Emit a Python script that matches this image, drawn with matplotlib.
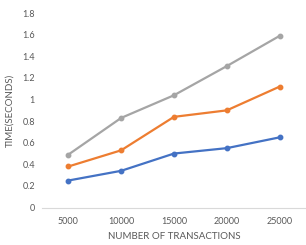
import matplotlib
matplotlib.use("Agg")
import matplotlib.pyplot as plt

# data
transactions = ["5000", "10000", "15000", "20000", "25000"]
series_blue = [0.25, 0.34, 0.50, 0.55, 0.65]
series_orange = [0.38, 0.53, 0.84, 0.90, 1.12]
series_gray = [0.49, 0.83, 1.04, 1.31, 1.59]
y_ticks = [0, 0.2, 0.4, 0.6, 0.8, 1, 1.2, 1.4, 1.6, 1.8]

plt.rcParams['font.family'] = ['Lato', 'DejaVu Sans']

fig = plt.figure(figsize=(3.06, 2.45), dpi=100)
ax = fig.add_axes([0.137, 0.153, 0.863, 0.793])

xs = range(len(transactions))
for vals, col in [(series_blue, '#4472C4'), (series_orange, '#ED7D31'), (series_gray, '#A5A5A5')]:
    ax.plot(xs, vals, color=col, linewidth=1.6, marker='o', markersize=3.2)

ax.set_xlim(-0.5, len(transactions) - 0.5)
ax.set_ylim(0, 1.8)
ax.set_xticks(list(xs))
ax.set_xticklabels(transactions)
ax.set_yticks(y_ticks)
ax.set_yticklabels([f"{v:g}" for v in y_ticks])

for s in ['top', 'right', 'left']:
    ax.spines[s].set_visible(False)
ax.spines['bottom'].set_color('#D9D9D9')
ax.spines['bottom'].set_linewidth(0.8)
ax.tick_params(length=0, labelsize=6.5, colors='#595959', pad=7)
ax.tick_params(axis='y', pad=5)

ax.set_xlabel("NUMBER OF TRANSACTIONS", fontsize=7, color='#595959', labelpad=4)
ax.set_ylabel("TIME(SECONDS)", fontsize=7, color='#595959')
ax.yaxis.set_label_coords(-0.105, 0.5)

fig.savefig("out.png", dpi=100)
